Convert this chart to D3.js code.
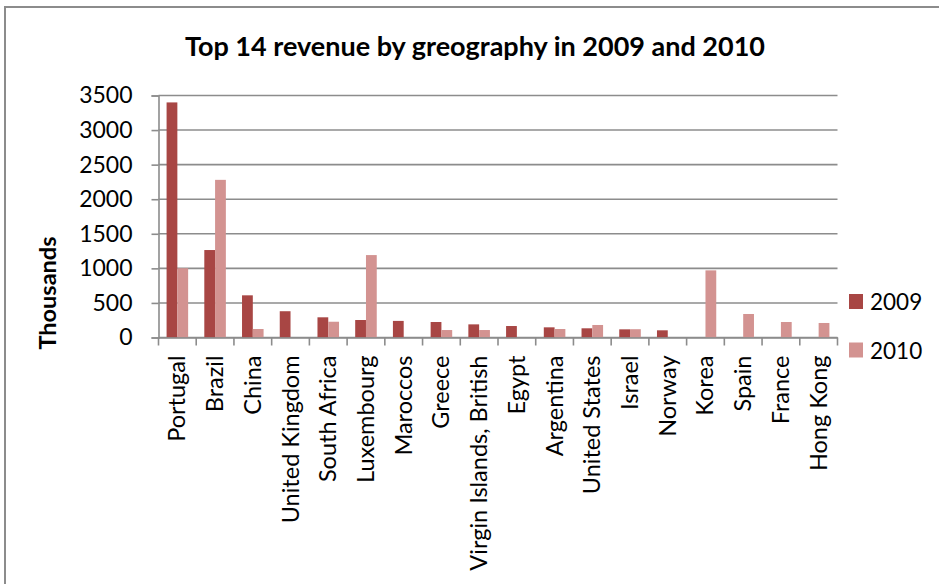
<!DOCTYPE html>
<html>
<head>
<meta charset="utf-8">
<script src="https://cdn.jsdelivr.net/npm/d3@7"></script>
<style>
  html, body { margin: 0; padding: 0; background: #fff; }
  svg { display: block; font-family: Lato, "Open Sans", sans-serif; }
</style>
</head>
<body>
<svg id="chart" width="939" height="584"></svg>
<script>
// Revenue per country, in thousands
const countries = ["Portugal", "Brazil", "China", "United Kingdom", "South Africa", "Luxembourg",
  "Maroccos", "Greece", "Virgin Islands, British", "Egypt", "Argentina", "United States",
  "Israel", "Norway", "Korea", "Spain", "France", "Hong Kong"];
const years = ["2009", "2010"];
const revenue2009 = [3400, 1265, 610, 380, 292, 253, 240, 224, 190, 166, 147, 133, 118, 104, 0, 0, 0, 0];
const revenue2010 = [1002, 2280, 123, 0, 228, 1192, 0, 108, 108, 0, 123, 181, 120, 0, 971, 340, 224, 210];
const yTicks = [0, 500, 1000, 1500, 2000, 2500, 3000, 3500];
const colors = ["#A84644", "#D39391"];

const svg = d3.select("#chart");

// chart frame
svg.append("rect")
  .attr("x", 5).attr("y", 7).attr("width", 960).attr("height", 600)
  .attr("fill", "none").attr("stroke", "#8c8c8c").attr("stroke-width", 2);

const plotLeft = 158.5, plotRight = 837.5, plotTop = 95.5, plotBottom = 337.5;

const x = d3.scaleBand().domain(countries).range([plotLeft, plotRight]).paddingInner(0).paddingOuter(0);
const y = d3.scaleLinear().domain([0, 3500]).range([plotBottom, plotTop]);

// bars inside each band: gap width 150% of a bar
const barW = x.bandwidth() / 3.5;
const inner = d3.scaleBand().domain(years).range([barW * 0.75, barW * 2.75]);

// gridlines
svg.append("g").selectAll("line").data(yTicks).join("line")
  .attr("x1", plotLeft).attr("x2", plotRight)
  .attr("y1", d => y(d)).attr("y2", d => y(d))
  .attr("stroke", "#8c8c8c").attr("stroke-width", 1.6);

// y axis
const yAxis = svg.append("g").attr("transform", `translate(${plotLeft},0)`)
  .call(d3.axisLeft(y).tickValues(yTicks).tickSize(7).tickPadding(19).tickFormat(d3.format("d")));
yAxis.select(".domain").attr("stroke", "#8c8c8c").attr("stroke-width", 1.6);
yAxis.selectAll(".tick line").attr("stroke", "#8c8c8c").attr("stroke-width", 1.6);
yAxis.selectAll(".tick text").attr("font-size", 23).attr("fill", "#000")
  .attr("font-family", "Lato, sans-serif");

// bars
const series = [revenue2009, revenue2010];
years.forEach((yr, si) => {
  svg.append("g").selectAll("rect")
    .data(countries.map((c, i) => ({ c, v: series[si][i] })).filter(d => d.v > 0))
    .join("rect")
    .attr("x", d => x(d.c) + inner(yr))
    .attr("width", inner.bandwidth())
    .attr("y", d => y(d.v))
    .attr("height", d => y(0) - y(d.v))
    .attr("fill", colors[si]);
});

// x axis
const xAxis = svg.append("g").attr("transform", `translate(0,${plotBottom})`)
  .call(d3.axisBottom(x).tickSize(0).tickFormat(""));
xAxis.select(".domain").attr("stroke", "#8c8c8c").attr("stroke-width", 1.6);
xAxis.selectAll(".tick").remove();
// category separators
const seps = countries.map(c => x(c)).concat([plotRight]);
svg.append("g").selectAll("line").data(seps).join("line")
  .attr("x1", d => d).attr("x2", d => d)
  .attr("y1", plotBottom).attr("y2", plotBottom + 8)
  .attr("stroke", "#8c8c8c").attr("stroke-width", 1.6);

// category labels, rotated
svg.append("g").selectAll("text").data(countries).join("text")
  .attr("transform", d => `translate(${x(d) + x.bandwidth() / 2 + 8},${plotBottom + 18}) rotate(-90)`)
  .attr("text-anchor", "end")
  .attr("font-size", 23.5)
  .attr("fill", "#000")
  .text(d => d);

// y axis title
svg.append("text")
  .attr("transform", "translate(56,293) rotate(-90)")
  .attr("text-anchor", "middle")
  .attr("font-size", 23.5).attr("font-weight", "bold")
  .text("Thousands");

// chart title
svg.append("text")
  .attr("x", 475).attr("y", 56)
  .attr("text-anchor", "middle")
  .attr("font-size", 27).attr("font-weight", "bold")
  .text("Top 14 revenue by greography in 2009 and 2010");

// legend
const legend = svg.append("g").selectAll("g").data(years).join("g")
  .attr("transform", (d, i) => `translate(849,${294 + i * 48.5})`);
legend.append("rect").attr("width", 14).attr("height", 15).attr("fill", (d, i) => colors[i]);
legend.append("text").attr("x", 21).attr("y", 16)
  .attr("font-size", 22.5).text(d => d);
</script>
</body>
</html>
